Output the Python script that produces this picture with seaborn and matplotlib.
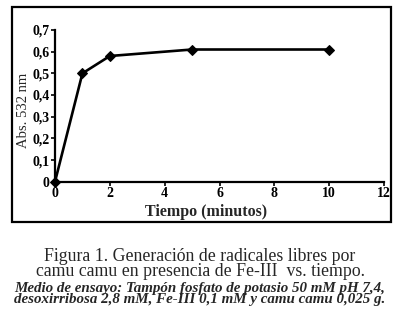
import pandas as pd
import seaborn as sns
from matplotlib import pyplot as plt
from matplotlib.patches import Rectangle

tiempo = [0, 1, 2, 5, 10]
absorbancia = [0.0, 0.50, 0.58, 0.61, 0.61]
y_ticks = [0, 0.1, 0.2, 0.3, 0.4, 0.5, 0.6, 0.7]
x_ticks = [0, 2, 4, 6, 8, 10, 12]

caption_title = [
    "Figura 1. Generación de radicales libres por",
    "camu camu en presencia de Fe-III  vs. tiempo.",
]
caption_note = [
    "Medio de ensayo: Tampón fosfato de potasio 50 mM pH 7,4,",
    "desoxirribosa 2,8 mM, Fe-III 0,1 mM y camu camu 0,025 g.",
]

sns.set_style("ticks")
plt.rcParams["font.family"] = ["Liberation Serif", "DejaVu Serif"]

df = pd.DataFrame({"tiempo": tiempo, "abs": absorbancia})

fig = plt.figure(figsize=(4, 3.3), dpi=100)
ax = fig.add_axes([0.1375, 0.4494, 0.8225, 0.4597])

sns.lineplot(
    data=df, x="tiempo", y="abs", ax=ax,
    color="black", linewidth=1.9, marker="D", markersize=5,
    markeredgecolor="black", clip_on=False,
)

ax.set_xlim(0, 12)
ax.set_ylim(0, 0.7)
ax.set_xticks(x_ticks)
ax.set_yticks(y_ticks)
ax.set_yticklabels(["0" if v == 0 else f"{v:.1f}".replace(".", ",") for v in y_ticks])
ax.tick_params(axis="both", labelsize=10, width=1.2, length=3, pad=1, colors="black")
for lab in ax.get_xticklabels() + ax.get_yticklabels():
    lab.set_fontweight("bold")

for side in ("left", "bottom"):
    ax.spines[side].set_linewidth(1.6)
    ax.spines[side].set_color("black")
sns.despine(ax=ax)

ax.set_xlabel("Tiempo (minutos)", fontsize=11.5, fontweight="bold")
ax.set_ylabel("Abs. 532 nm", fontsize=10.5)
ax.xaxis.set_label_coords(0.46, -0.15)
ax.yaxis.set_label_coords(-0.076, 0.47)

# marco alrededor del gráfico
fig.patches.append(Rectangle((0.03, 0.327), 0.9475, 0.652, transform=fig.transFigure,
                             fill=False, edgecolor="black", linewidth=1.6))

fig.text(0.5, 1 - 264 / 330, "\n".join(caption_title), ha="center", va="center",
         multialignment="center", fontsize=12.8, linespacing=0.9)
fig.text(0.5, 1 - 294 / 330, "\n".join(caption_note), ha="center", va="center",
         multialignment="center", fontsize=10.8, style="italic", fontweight="bold",
         linespacing=0.86)

fig.savefig("out.png", dpi=100)
